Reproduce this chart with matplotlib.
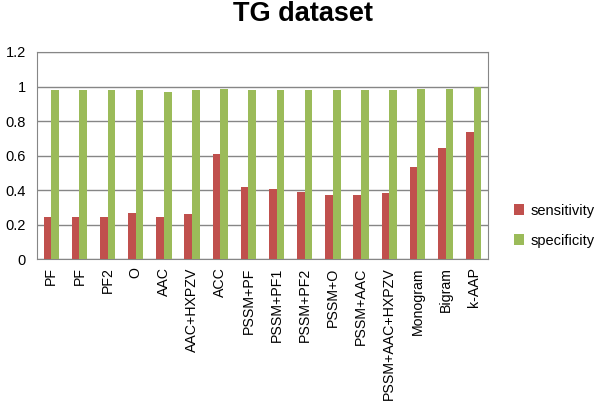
import matplotlib.pyplot as plt
import numpy as np

plt.rcParams['font.family'] = ['Liberation Sans', 'DejaVu Sans']

categories = ["PF", "PF", "PF2", "O", "AAC", "AAC+HXPZV", "ACC", "PSSM+PF",
              "PSSM+PF1", "PSSM+PF2", "PSSM+O", "PSSM+AAC", "PSSM+AAC+HXPZV",
              "Monogram", "Bigram", "k-AAP"]
sensitivity = [0.246, 0.246, 0.246, 0.269, 0.246, 0.26, 0.607, 0.42,
               0.404, 0.388, 0.373, 0.373, 0.381, 0.533, 0.646, 0.737]
specificity = [0.977, 0.977, 0.977, 0.977, 0.971, 0.977, 0.987, 0.977,
               0.977, 0.977, 0.977, 0.977, 0.977, 0.987, 0.987, 0.996]

red = "#C0504D"
green = "#9BBB59"
grid = "#868686"

fig = plt.figure(figsize=(6, 4.03), dpi=100)
ax = fig.add_axes([0.062, 0.357, 0.751, 0.514])

x = np.arange(len(categories))
w = 0.27
ax.bar(x - w / 2, sensitivity, w, color=red, label="sensitivity", zorder=3)
ax.bar(x + w / 2, specificity, w, color=green, label="specificity", zorder=3)

ax.set_xlim(-0.5, len(categories) - 0.5)
ax.set_ylim(0, 1.2)
ax.set_yticks(np.arange(0, 1.21, 0.2))
ax.set_yticklabels(["0", "0.2", "0.4", "0.6", "0.8", "1", "1.2"], fontsize=10.5)
ax.yaxis.grid(True, color=grid, linewidth=1, zorder=0)
ax.set_xticks(x)
ax.set_xticklabels(categories, rotation=90, fontsize=10.2)
ax.tick_params(axis="y", length=0, pad=8)
ax.tick_params(axis="x", length=0, pad=6)
for s in ax.spines.values():
    s.set_color(grid)

fig.text(0.505, 1 - 21 / 403, "TG dataset", ha="center", va="baseline",
         fontsize=19.5, fontweight="bold")

fig.legend(loc="center left", bbox_to_anchor=(0.835, 0.44), frameon=False,
           fontsize=10.5, handlelength=0.7, handleheight=0.7,
           handletextpad=0.4, labelspacing=1.1)

fig.savefig("out.png", dpi=100)
